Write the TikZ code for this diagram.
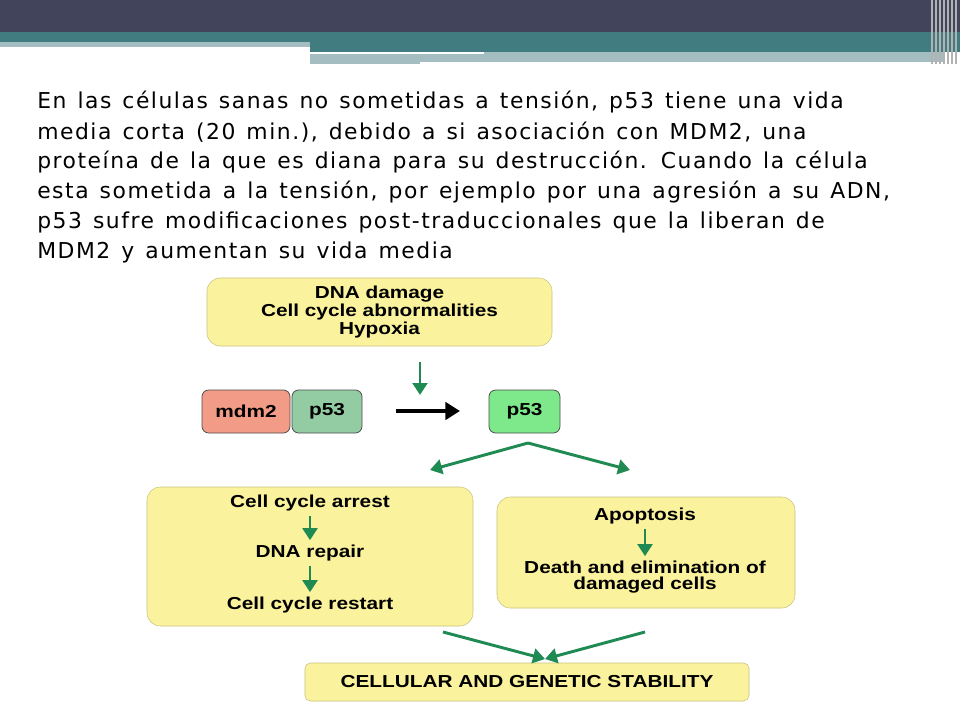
\documentclass[tikz,border=0pt]{standalone}
\usepackage{fontspec}
\setmainfont{DejaVu Sans}[LetterSpace=7,WordSpace=1.3]
\newfontfamily\arialb{Liberation Sans}[FakeStretch=1.2]
\usetikzlibrary{arrows.meta}
\definecolor{dark}{HTML}{41445A}
\definecolor{teal}{HTML}{417C80}
\definecolor{lteal}{HTML}{A3BDC1}
\definecolor{yel}{HTML}{FAF29C}
\definecolor{salm}{HTML}{F29C88}
\definecolor{gg}{HTML}{93CCA2}
\definecolor{lg}{HTML}{7EE98A}
\definecolor{garr}{HTML}{1F8A52}
\begin{document}
\begin{tikzpicture}[x=0.75pt,y=-0.75pt,
  ybox/.style={draw=yel!80!black,fill=yel,rounded corners=10pt,line width=0.4pt},
  pbox/.style={draw=black!70,rounded corners=5pt,line width=0.6pt},
  lab/.style={font=\arialb\bfseries\fontsize{13}{12}\selectfont,align=center},
  garrow/.style={draw=garr,line width=2.2pt,-{Triangle[length=9pt,width=11pt]}},
  txt/.style={anchor=west,inner sep=0pt,font=\fontsize{16.4}{18}\selectfont}]
\useasboundingbox (0,0) rectangle (960,720);
\fill[white] (0,0) rectangle (960,720);
% header
\fill[dark] (0,0) rectangle (960,32);
\fill[teal] (0,32) rectangle (960,42);
\fill[lteal] (0,42) rectangle (310,47);
\fill[teal] (310,42) rectangle (960,52);
\fill[lteal] (310,52) rectangle (945,64);
\fill[white] (310,52) rectangle (484,54);
\fill[white] (420,62) rectangle (945,64);
\foreach \x in {932,936,940,944,948,952,956}{\draw[gray!60,line width=0.8pt] (\x,0) -- (\x,64);}
% text
\node[txt] (l1) at (37,102) {En las células sanas no sometidas a tensión, p53 tiene una vida};
\node[txt] (l2) at (37,132) {media corta (20 min.), debido a si asociación con MDM2, una};
\node[txt] (l3) at (37,162) {proteína de la que es diana para su destrucción. Cuando la célula};
\node[txt] (l4) at (37,192) {esta sometida a la tensión, por ejemplo por una agresión a su ADN,};
\node[txt] (l5) at (37,222) {p53 sufre modificaciones post-traduccionales que la liberan de};
\node[txt] (l6) at (37,252) {MDM2 y aumentan su vida media};
% top box
\node[ybox,lab,minimum width=345*0.75pt,minimum height=68*0.75pt] (dmg) at (379.5,312)
 {DNA damage\\Cell cycle abnormalities\\Hypoxia};
\node[pbox,fill=salm,lab,minimum width=88*0.75pt,minimum height=43*0.75pt] (mdm) at (246,411.5) {mdm2};
\node[pbox,fill=gg,lab,minimum width=70*0.75pt,minimum height=43*0.75pt] (pa) at (327,411.5) {p53};
\node[pbox,fill=lg,lab,minimum width=71*0.75pt,minimum height=43*0.75pt] (pb) at (524.5,411.5) {p53};
\coordinate (ga1) at (420,362); \coordinate (ga2) at (420,395);
\draw[garrow] (ga1) -- (ga2);
\coordinate (ba1) at (396,411); \coordinate (ba2) at (460,411);
\draw[line width=3pt,-{Triangle[length=11pt,width=13pt]}] (ba1) -- (ba2);
\coordinate (fk) at (528,443); \coordinate (fl) at (430,470); \coordinate (fr) at (630,470);
\draw[garrow] (fk) -- (fl);
\draw[garrow] (fk) -- (fr);
% left box
\node[ybox,minimum width=326*0.75pt,minimum height=139*0.75pt] (lb) at (310,556.5) {};
\node[lab] (t1) at (310,503) {Cell cycle arrest};
\node[lab] (t2) at (310,553) {DNA repair};
\node[lab] (t3) at (310,605) {Cell cycle restart};
\draw[garrow] (t1.south) -- (t2.north);
\draw[garrow] (t2.south) -- (t3.north);
% right box
\node[ybox,minimum width=298*0.75pt,minimum height=111*0.75pt] (rb) at (646,552.5) {};
\node[lab] (r1) at (645,516) {Apoptosis};
\node[lab] (r2) at (645,577) {Death and elimination of\\damaged cells};
\draw[garrow] (r1.south) -- (r2.north);
% bottom
\node[ybox,rounded corners=4pt,lab,minimum width=444*0.75pt,minimum height=38*0.75pt] (st) at (527,682) {CELLULAR AND GENETIC STABILITY};
\coordinate (c1) at (443,632); \coordinate (c2) at (645,632); \coordinate (cm) at (545,659);
\draw[garrow] (c1) -- (cm);
\draw[garrow] (c2) -- (cm);
\end{tikzpicture}
\end{document}
